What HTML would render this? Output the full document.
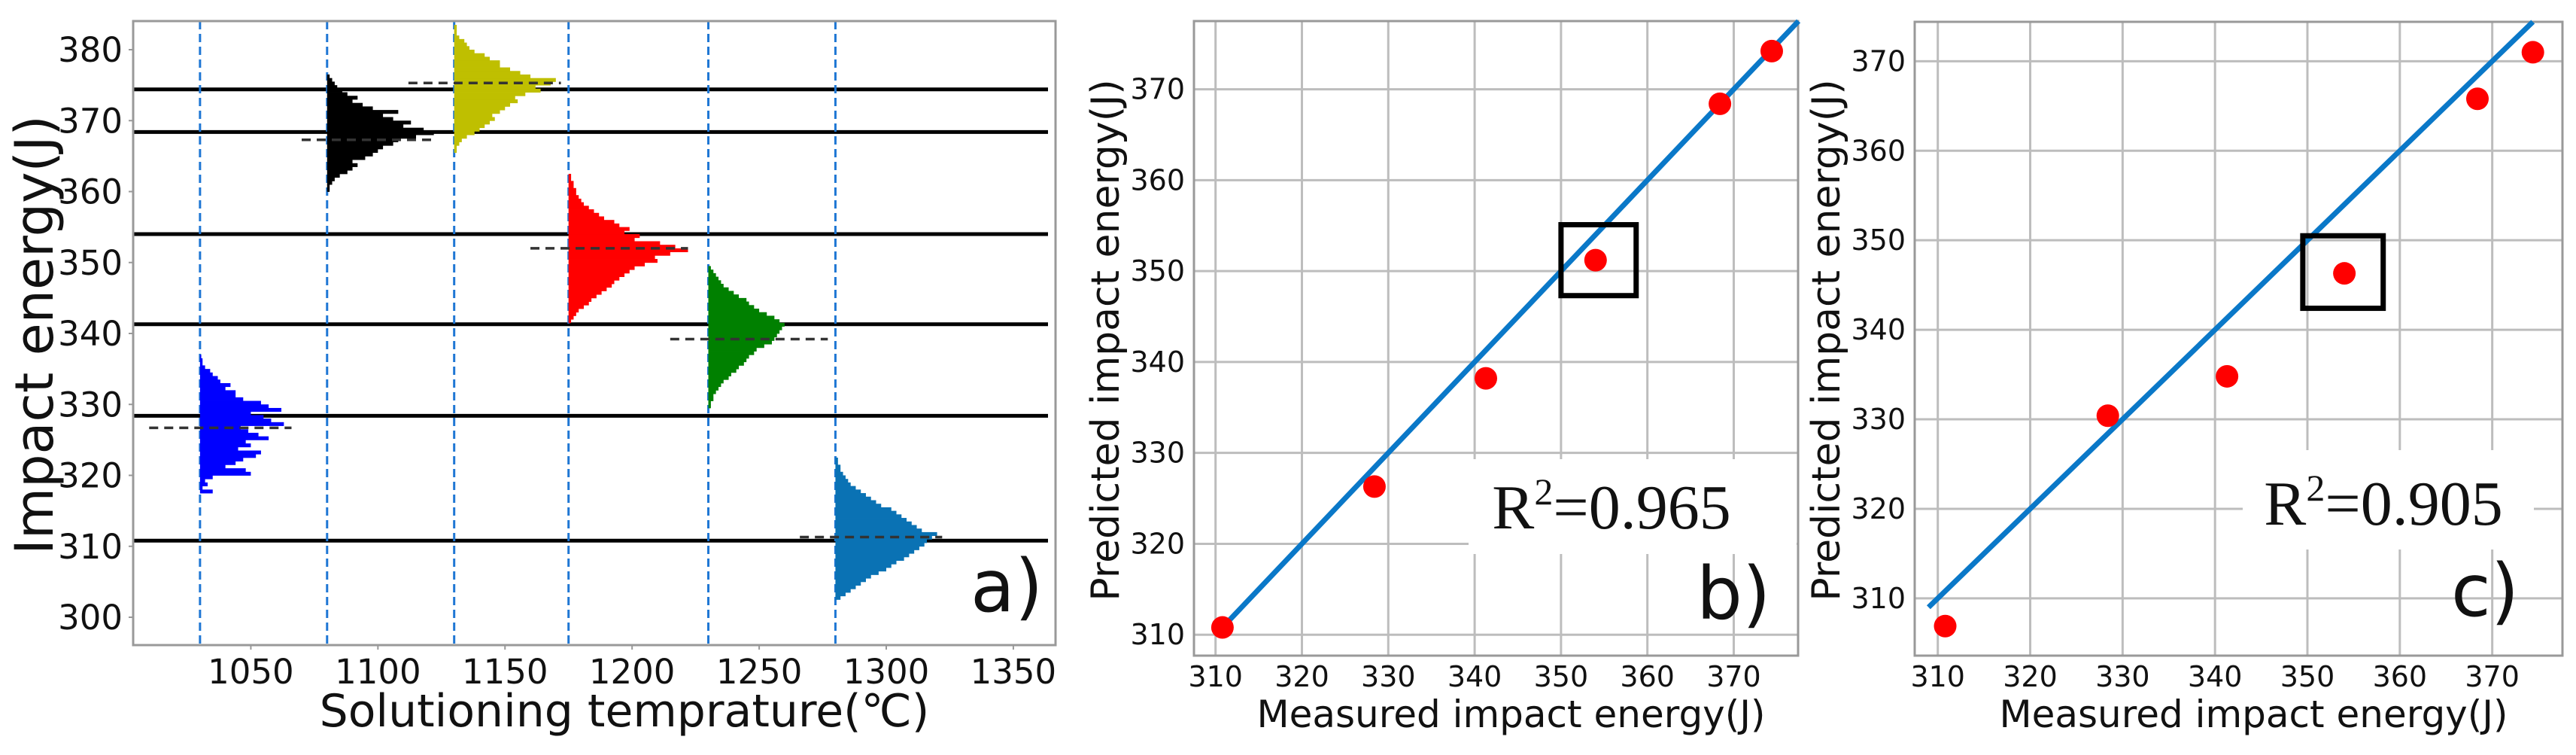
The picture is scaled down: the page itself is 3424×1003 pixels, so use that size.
<!DOCTYPE html>
<html><head><meta charset="utf-8"><style>
html,body{margin:0;padding:0;background:#fff;}
svg{display:block;}
text{font-family:"DejaVu Sans","Liberation Sans",sans-serif;fill:#111;}
</style></head><body>
<svg id="fig" width="3424" height="1003" viewBox="0 0 3424 1003" xmlns="http://www.w3.org/2000/svg"></svg>
<script>
// ---------- Panel a data ----------
const tempsA = [1030, 1080, 1130, 1175, 1230, 1280];
const measuredLines = [310.8, 328.4, 341.3, 354, 368.4, 374.4];
const histColors = ['#0000ff', '#000000', '#bfbf00', '#ff0000', '#008000', '#0a72b4'];
const histStart = [317.5, 360, 365.5, 341.5, 329.5, 302.5];
const histBin = 0.5;
const histBlue = [5,1,3,2,5,20,18,10,14,17,22,24,15,20,18,27,23,19,16,33,28,25,20,32,27,24,17,14,14,10,12,8,7,5,4,2,1,1,0.5];
const histBlack = [1,1,2,3,5,8,10,12,10,15,18,20,22,26,28,35,42,38,30,33,26,22,28,18,14,10,12,8,6,4,3,2,1];
const histYellow = [1,1,2,3,5,8,10,12,14,16,15,18,20,22,25,24,28,34,32,38,40,30,26,22,18,18,14,12,8,6,5,4,2,1,1,1];
const histRed = [1,2,3,4,6,8,9,11,13,15,17,18,20,22,24,26,30,35,34,40,47,42,36,26,28,22,24,20,18,14,12,10,8,6,5,4,3,3,2,2,1,1];
const histGreen = [1,1,2,2,3,4,5,6,8,9,11,12,14,15,16,18,19,22,25,26,27,28,29,30,28,26,23,20,18,16,15,12,10,8,6,5,4,3,2,1];
const histTeal = [2,4,6,8,10,12,14,17,20,22,24,27,29,31,33,35,36,38,40,34,32,30,28,26,24,22,18,16,14,12,10,8,6,5,4,3,2,2,1,1];
const meanVals = [326.7, 367.3, 375.3, 352, 339.2, 311.3];
const meanFrom = [1010, 1070, 1112, 1160, 1215, 1266];
const meanTo = [1066, 1122, 1172, 1222, 1277, 1322];
const xTicksA = [1050, 1100, 1150, 1200, 1250, 1300, 1350];
const yTicksA = [300, 310, 320, 330, 340, 350, 360, 370, 380];
// ---------- Panel b / c data ----------
const measured = [310.8, 328.4, 341.3, 354, 368.4, 374.4];
const predB = [310.8, 326.3, 338.2, 351.2, 368.4, 374.2];
const predC = [306.9, 330.4, 334.8, 346.3, 365.8, 371.0];
const ticksBC = [310, 320, 330, 340, 350, 360, 370];

const NS = 'http://www.w3.org/2000/svg';
const svg = document.getElementById('fig');
function mk(tag, attrs, parent) {
  const e = document.createElementNS(NS, tag);
  for (const k in attrs) e.setAttribute(k, attrs[k]);
  (parent || svg).appendChild(e);
  return e;
}
function lin(d0, d1, r0, r1) { return v => r0 + (v - d0) * (r1 - r0) / (d1 - d0); }

// ================= Panel a =================
const gA = mk('g', {});


const A = {l:177, r:1403, t:28, b:857};
const xA = lin(1003.7, 1366.6, A.l, A.r);
const yA = lin(300, 380, 820, 66);
measuredLines.forEach(v => {
  const e = mk('line', {x1:A.l, x2:1393, y1:yA(v), y2:yA(v), stroke:'#000', 'stroke-width':5}, gA);
  
  
});
tempsA.forEach(t => {
  const e = mk('line', {x1:xA(t), x2:xA(t), y1:A.t, y2:A.b, stroke:'#1f77d4', 'stroke-width':3, 'stroke-dasharray':'11 6'}, gA);
  
  
});
const hists = [histBlue, histBlack, histYellow, histRed, histGreen, histTeal];
hists.forEach((h, i) => {
  const g = mk('g', {}, gA);
  
  
  h.forEach((w, j) => {
    const v0 = histStart[i] + j * histBin;
    const y1 = yA(v0 + histBin), y0 = yA(v0);
    const r = mk('rect', {x:xA(tempsA[i]), y:y1, width:xA(tempsA[i] + w) - xA(tempsA[i]), height:y0 - y1 + 0.4, fill:histColors[i]}, g);
    
    
  });
  const m = mk('line', {x1:xA(meanFrom[i]), x2:xA(meanTo[i]), y1:yA(meanVals[i]), y2:yA(meanVals[i]), stroke:'#333', 'stroke-width':3.5, 'stroke-dasharray':'12 8'}, g);
  
  
});
const fa = mk('rect', {x:A.l, y:A.t, width:A.r - A.l, height:A.b - A.t, fill:'none', stroke:'#999', 'stroke-width':3}, gA);


yTicksA.forEach(v => {
  mk('line', {x1:A.l - 6, x2:A.l, y1:yA(v), y2:yA(v), stroke:'#999', 'stroke-width':2}, gA);
  const t = mk('text', {x:163, y:yA(v) + 16, 'text-anchor':'end', 'font-size':45}, gA);
  t.textContent = v;
  
  
});
xTicksA.forEach(v => {
  mk('line', {x1:xA(v), x2:xA(v), y1:A.b, y2:A.b + 6, stroke:'#999', 'stroke-width':2}, gA);
  const t = mk('text', {x:xA(v), y:908, 'text-anchor':'middle', 'font-size':45}, gA);
  t.textContent = v;
  
  
});
{
  const t = mk('text', {x:830, y:965, 'text-anchor':'middle', 'font-size':60}, gA);
  t.textContent = 'Solutioning temprature(℃)';
  
  
  const t2 = mk('text', {x:0, y:0, 'text-anchor':'middle', 'font-size':70, transform:'translate(70,445) rotate(-90)'}, gA);
  t2.textContent = 'Impact energy(J)';
  
  
  const t3 = mk('text', {x:1290, y:812, 'font-size':96}, gA);
  t3.textContent = 'a)';
  
  
}

// ================= Panels b & c =================
function scatterPanel(name, P, dom, preds, fitFrom, fitTo, box, r2, r2pos, r2bg, lab) {
  const g = mk('g', {});
  
  
  const x = lin(dom.x0, dom.x1, P.l, P.r);
  const y = lin(dom.y0, dom.y1, P.b, P.t);
  ticksBC.forEach(v => {
    if (y(v) > P.t && y(v) < P.b) {
      const gl = mk('line', {x1:P.l, x2:P.r, y1:y(v), y2:y(v), stroke:'#bdbdbd', 'stroke-width':3}, g);
      
      
      const t = mk('text', {x:P.l - 12, y:y(v) + 13, 'text-anchor':'end', 'font-size':38}, g);
      t.textContent = v;
      
      
    }
    const gl2 = mk('line', {x1:x(v), x2:x(v), y1:P.t, y2:P.b, stroke:'#bdbdbd', 'stroke-width':3}, g);
    
    
    const t = mk('text', {x:x(v), y:P.b + 41, 'text-anchor':'middle', 'font-size':38}, g);
    t.textContent = v;
    
    
  });
  const bg = mk('rect', {x:r2bg[0], y:r2bg[1], width:r2bg[2], height:r2bg[3], fill:'#fff'}, g);
  
  
  const fr = mk('rect', {x:P.l, y:P.t, width:P.r - P.l, height:P.b - P.t, fill:'none', stroke:'#999', 'stroke-width':3}, g);
  
  
  const fit = mk('line', {x1:x(fitFrom), y1:y(fitFrom), x2:x(fitTo), y2:y(fitTo), stroke:'#0a78c8', 'stroke-width':7}, g);
  
  
  measured.forEach((m, i) => {
    const c = mk('circle', {cx:x(m), cy:y(preds[i]), r:15, fill:'#ff0000'}, g);
    
    
  });
  const hb = mk('rect', {x:x(box[0]), y:y(box[3]), width:x(box[1]) - x(box[0]), height:y(box[2]) - y(box[3]), fill:'none', stroke:'#000', 'stroke-width':7}, g);
  
  
  const rt = mk('text', {x:r2pos[0], y:r2pos[1], 'text-anchor':'middle', 'font-size':84, style:'font-family:"Liberation Serif",serif'}, g);
  rt.innerHTML = 'R<tspan dy="-32" font-size="50">2</tspan><tspan dy="32">=' + r2 + '</tspan>';
  
  
  const xt = mk('text', {x:(P.l + P.r) / 2 + 20, y:966, 'text-anchor':'middle', 'font-size':50}, g);
  xt.textContent = 'Measured impact energy(J)';
  
  
  const yt = mk('text', {x:0, y:0, 'text-anchor':'middle', 'font-size':52, transform:'translate(' + (P.l - 100) + ',452) rotate(-90)'}, g);
  yt.textContent = 'Predicted impact energy(J)';
  
  
  const lt = mk('text', {x:lab[0], y:lab[1], 'font-size':96}, g);
  lt.textContent = lab[2];
  
  
}
scatterPanel('panel-b', {l:1587, r:2390, t:28, b:871}, {x0:307.5, x1:377.45, y0:307.7, y1:377.5},
  predB, 310.5, 377.5, [350, 358.7, 347.3, 355.1], '0.965', [2142, 702], [1952, 610, 436, 126], [2255, 822, 'b)']);
scatterPanel('panel-c', {l:2545, r:3406, t:29, b:871}, {x0:307.5, x1:377.6, y0:303.6, y1:374.4},
  predC, 309, 374.4, [349.5, 358.2, 342.4, 350.5], '0.905', [3168, 697], [2981, 598, 387, 132], [3258, 818, 'c)']);
</script>
</body></html>
